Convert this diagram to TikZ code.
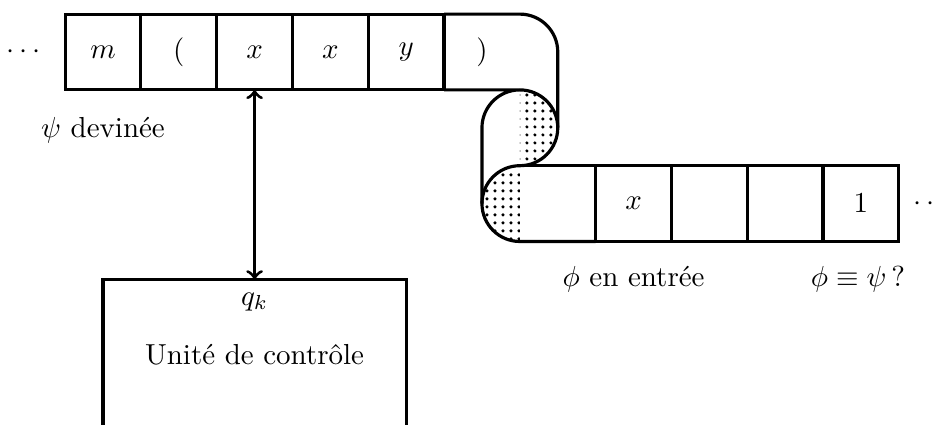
\documentclass[tikz,border=0pt]{standalone}
\usepackage{amsmath}

\begin{document}
\begin{tikzpicture}[
	x=0.92cm, y=0.92cm,
	line width=1.1pt,
	cell/.style={draw, rectangle, minimum size=0.92cm, inner sep=0pt, outer sep=0pt},
	label/.style={inner sep=0pt},
	arrow/.style={<->}
]

% The page
\useasboundingbox (-1.359,0.686) rectangle (11.03,-4.92);
\clip (-1.359,0.686) rectangle (11.03,-4.92);

% The dotted parts of the tape
\begin{scope}
	\clip (5.5,-0.5) arc (90:-90:0.5) -- cycle;
	\foreach \i in {0,...,5}
		\foreach \j in {0,...,9}
			\fill ({5.488+0.1055*\i},{-0.567-0.1055*\j}) circle (0.6pt);
\end{scope}
\begin{scope}
	\clip (5.5,-1.5) arc (90:270:0.5) -- cycle;
	\foreach \i in {0,...,5}
		\foreach \j in {10,...,18}
			\fill ({5.488-0.1055*\i},{-0.567-0.1055*\j}) circle (0.6pt);
\end{scope}

% The tape, top row
\node[cell] (cellm) at (0,0) {$m$};
\node[cell] (cellopen) at (1,0) {$($};
\node[cell] (cellxa) at (2,0) {$x$};
\node[cell] (cellxb) at (3,0) {$x$};
\node[cell] (celly) at (4,0) {$y$};
\node[label] (cellclose) at (5,0) {$)$};

% The tape, bottom row
\node[cell] (cellxc) at (7,-2) {$x$};
\node[cell] (cellblanka) at (8,-2) {};
\node[cell] (cellblankb) at (9,-2) {};
\node[cell] (cellone) at (10,-2) {$1$};

% The fold of the tape
\draw (celly.north east) -- (5.5,0.5) arc (90:0:0.5) -- (6,-1) arc (0:-90:0.5) arc (90:180:0.5) -- (5,-2) arc (180:270:0.5) -- (cellxc.south west);
\draw (celly.south east) -- (5.5,-0.5) arc (90:180:0.5) -- (5,-2);
\draw (5.5,-0.5) arc (90:0:0.5);
\draw (5.5,-1.5) -- (cellxc.north west);

% The dots at both ends
\node[label] (dotsleft) at (-1.02,0) {$\cdots$};
\node[label] (dotsright) at (10.95,-2) {$\cdots$};

% The control unit
\node[cell, minimum width=3.68cm, minimum height=2.76cm] (control) at (2,-4.5) {};
\node[label] (state) at (2,-3.3) {$q_k$};
\node[label] (unit) at (2,-4) {Unité de contrôle};

% The labels
\node[label] (guess) at (0,-1.03) {$\psi$ devinée};
\node[label] (input) at (7,-3) {$\phi$ en entrée};
\node[label] (check) at (9.96,-3) {$\phi\equiv\psi\,$?};

% The connection
\draw[arrow] (cellxa.south) -- (control.north);

\end{tikzpicture}
\end{document}
